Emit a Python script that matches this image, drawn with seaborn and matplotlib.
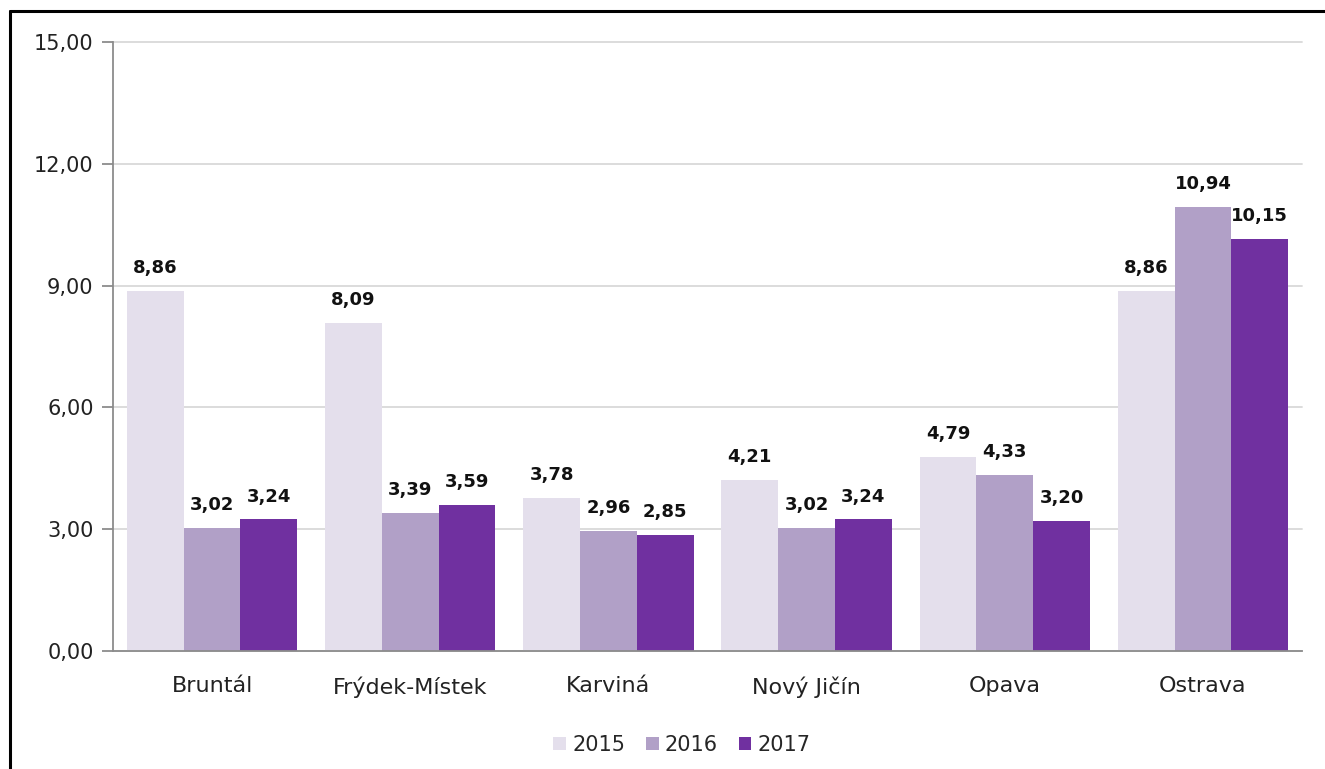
import seaborn as sns
import matplotlib.pyplot as plt
import pandas as pd
from matplotlib.lines import Line2D
from matplotlib.patches import Patch

districts = ["Bruntál", "Frýdek-Místek", "Karviná", "Nový Jičín", "Opava", "Ostrava"]
years = ["2015", "2016", "2017"]
values_2015 = [8.86, 8.09, 3.78, 4.21, 4.79, 8.86]
values_2016 = [3.02, 3.39, 2.96, 3.02, 4.33, 10.94]
values_2017 = [3.24, 3.59, 2.85, 3.24, 3.20, 10.15]
yticks = [0, 3, 6, 9, 12, 15]
colors = ["#E4DFEC", "#B1A0C7", "#7030A0"]

df = pd.DataFrame({
    "district": districts * 3,
    "year": [y for y in years for _ in districts],
    "value": values_2015 + values_2016 + values_2017,
})

sns.set_style("white")
plt.rcParams['font.family'] = ['DejaVu Sans']

fig = plt.figure(figsize=(13.25, 7.69), dpi=100)
ax = fig.add_axes([113 / 1325, 1 - 651 / 769, (1302 - 113) / 1325, (651 - 42) / 769])

sns.barplot(data=df, x="district", y="value", hue="year", order=districts,
            hue_order=years, palette=colors, width=0.86, saturation=1,
            linewidth=0, ax=ax, legend=False)

def fmt(v):
    return f"{v:.2f}".replace(".", ",")

for container in ax.containers:
    for bar in container:
        h = bar.get_height()
        ax.annotate(fmt(h), (bar.get_x() + bar.get_width() / 2, h),
                    xytext=(0, 10), textcoords="offset points",
                    ha="center", va="bottom", fontsize=13, fontweight="bold",
                    color="#111111")

ax.set_xlim(-0.5, len(districts) - 0.5)
ax.set_ylim(0, 15)
ax.set_yticks(yticks)
ax.set_yticklabels([fmt(t) for t in yticks], fontsize=15, color="#222222")
ax.set_xticks(range(len(districts)))
ax.set_xticklabels(districts, fontsize=16, color="#222222")
ax.set_xticks([i - 0.5 for i in range(len(districts) + 1)], minor=True)
ax.tick_params(axis="x", which="major", length=0, pad=18)
ax.tick_params(axis="x", which="minor", length=8, width=1.3, color="#8c8c8c", direction="out")
ax.tick_params(axis="y", length=8, width=1.3, color="#8c8c8c", direction="out", pad=6, left=True)
ax.set_xlabel("")
ax.set_ylabel("")

ax.yaxis.grid(True, color="#d9d9d9", linewidth=1.3)
for gl in ax.get_ygridlines():
    gl.set_clip_on(False)
ax.set_axisbelow(True)
for side in ["top", "right"]:
    ax.spines[side].set_visible(False)
for side in ["left", "bottom"]:
    ax.spines[side].set_visible(True)
    ax.spines[side].set_color("#8c8c8c")
    ax.spines[side].set_linewidth(1.3)

handles = [Patch(facecolor=c, edgecolor="none", label=y) for c, y in zip(colors, years)]
fig.legend(handles=handles, loc="center", bbox_to_anchor=(682 / 1325, 1 - 745 / 769),
           ncol=3, frameon=False, fontsize=15, handlelength=0.6, handleheight=0.6,
           handletextpad=0.3, columnspacing=1.0)

# frame lines at top and left edge
fig.add_artist(Line2D([10 / 1325, 1], [1 - 11 / 769, 1 - 11 / 769], color="black", linewidth=2.2))
fig.add_artist(Line2D([10 / 1325, 10 / 1325], [0, 1 - 11 / 769], color="black", linewidth=2.2))

fig.savefig("out.png", dpi=100)
